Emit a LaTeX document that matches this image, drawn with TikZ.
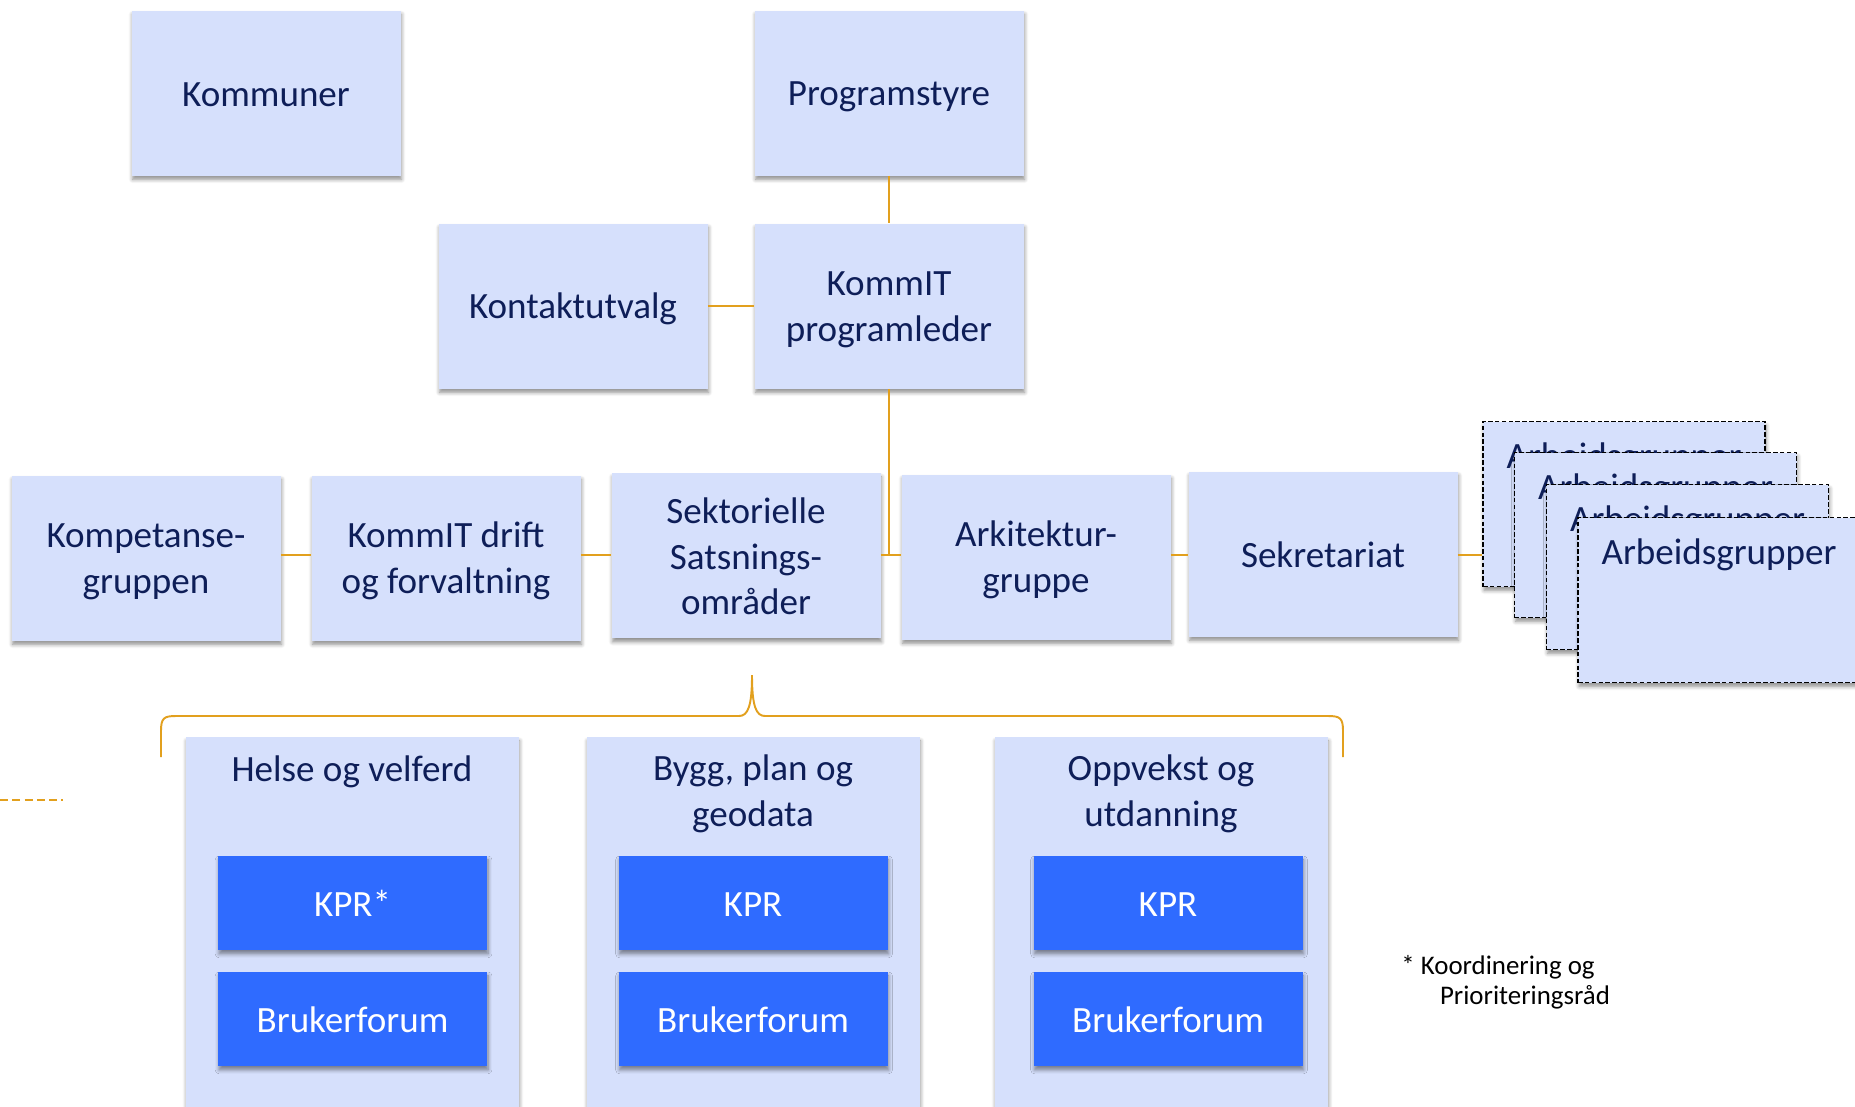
\documentclass[tikz,border=0pt]{standalone}
\usepackage{fontspec}
\setmainfont{Carlito}
\usetikzlibrary{shadows,shadows.blur,calc}
\definecolor{boxfill}{RGB}{214,224,252}
\definecolor{navy}{RGB}{14,30,88}
\definecolor{bluebox}{RGB}{47,107,255}
\definecolor{orangec}{RGB}{226,160,30}
\newcommand\mainsz{\fontsize{21.1pt}{26pt}\selectfont}
\newcommand\st{\rule[-2.5pt]{0pt}{20.5pt}}
\tikzset{
  shad/.style={blur shadow={shadow xshift=0.6pt, shadow yshift=-2.2pt, shadow blur radius=2.2pt, shadow blur steps=6, shadow opacity=45}},
  lbox/.style={shad, fill=boxfill, text=navy, align=center, inner sep=0pt,
    minimum width=269*0.02cm, minimum height=165*0.02cm, font=\mainsz},
  cbox/.style={shad, fill=boxfill, inner sep=0pt, minimum width=333*0.02cm, minimum height=393*0.02cm},
  bbox/.style={shad, fill=bluebox, text=white, align=center, inner sep=0pt,
    minimum width=269*0.02cm, minimum height=94*0.02cm, font=\mainsz},
  card/.style={shad, fill=boxfill, draw=black, line width=1pt, dash pattern=on 2.6pt off 1.3pt,
    inner sep=0pt, minimum width=282*0.02cm, minimum height=165*0.02cm},
  ttl/.style={text=navy, align=center, font=\mainsz, inner sep=0pt},
  conn/.style={draw=orangec, line width=1.1pt},
}
\begin{document}
\begin{tikzpicture}[x=0.02cm, y=-0.02cm]
\useasboundingbox (0,0) rectangle (1855,1106);

% top rows
\node[lbox] (kom)  at (266,93)  {\st Kommuner};
\node[lbox] (prog) at (889,93)  {\st Programstyre};
\node[lbox] (kont) at (573,306) {\st Kontaktutvalg};
\node[lbox] (pl)   at (889,306) {\st KommIT\\\st programleder};

% middle row
\node[lbox] (komp) at (146,558)   {\st Kompetanse-\\\st gruppen};
\node[lbox] (drift) at (446,558)  {\st KommIT drift\\\st og forvaltning};
\node[lbox] (sekt) at (746,555.5) {\st Sektorielle\\\st Satsnings-\\\st områder};
\node[lbox] (ark)  at (1036,557)  {\st Arkitektur-\\\st gruppe};
\node[lbox] (sekr) at (1323,554)  {\st Sekretariat};

% stacked Arbeidsgrupper cards
\node[card] (ag1) at (1624,504) {};
\node[ttl] at ($(ag1.north)+(0,35)$) {\st Arbeidsgrupper};
\node[card] (ag2) at (1655.5,535) {};
\node[ttl] at ($(ag2.north)+(0,35)$) {\st Arbeidsgrupper};
\node[card] (ag3) at (1687.5,567) {};
\node[ttl] at ($(ag3.north)+(0,35)$) {\st Arbeidsgrupper};
\node[card] (ag4) at (1719,600) {};
\node[ttl] at ($(ag4.north)+(0,35)$) {\st Arbeidsgrupper};

% connectors
\coordinate (hl) at (0,555);
\draw[conn] (prog.south) -- (pl.north);
\draw[conn] (kont.east) -- (pl.west);
\draw[conn] (komp.east |- hl) -- (drift.west |- hl);
\draw[conn] (drift.east |- hl) -- (sekt.west |- hl);
\draw[conn] (sekt.east |- hl) -- (ark.west |- hl);
\draw[conn] (pl.south) -- (pl.south |- hl);
\draw[conn] (ark.east |- hl) -- (sekr.west |- hl);
\draw[conn] (sekr.east |- hl) -- (ag1.west |- hl);

% brace
\coordinate (brL) at (161,757);
\coordinate (brT) at (752,675);
\coordinate (brR) at (1343,757);
\draw[conn] (brL) -- (161,731) .. controls (161,718) and (164,716) .. (176,716)
  -- (739,716) .. controls (748,716) and (752,706) .. (brT)
  .. controls (752,706) and (756,716) .. (765,716)
  -- (1328,716) .. controls (1340,716) and (1343,718) .. (1343,731) -- (brR);

% dashed line at left
\coordinate (dl1) at (0,800);
\coordinate (dl2) at (63,800);
\draw[conn, dash pattern=on 4.5pt off 2.5pt] (dl1) -- (dl2);

% bottom containers
\node[cbox] (helse) at (352,933.5) {};
\node[ttl] at (352,769) {\st Helse og velferd};
\node[bbox] (kpr1) at (352.5,903) {\st KPR*};
\node[bbox] (bf1) at (352.5,1019) {\st Brukerforum};

\node[cbox] (bygg) at (753,933.5) {};
\node[ttl] at (753,791) {\st Bygg, plan og\\\st geodata};
\node[bbox] (kpr2) at (753,903) {\st KPR};
\node[bbox] (bf2) at (753,1019) {\st Brukerforum};

\node[cbox] (oppv) at (1161,933.5) {};
\node[ttl] at (1161,791) {\st Oppvekst og\\\st utdanning};
\node[bbox] (kpr3) at (1168,903) {\st KPR};
\node[bbox] (bf3) at (1168,1019) {\st Brukerforum};

% footnote
\node[anchor=base west, inner sep=0pt, align=left, font=\fontsize{15.3pt}{17pt}\selectfont] (fn) at (1401,1004)
  {* Koordinering og\\\hspace*{22pt}Prioriteringsråd};
\end{tikzpicture}
\end{document}
